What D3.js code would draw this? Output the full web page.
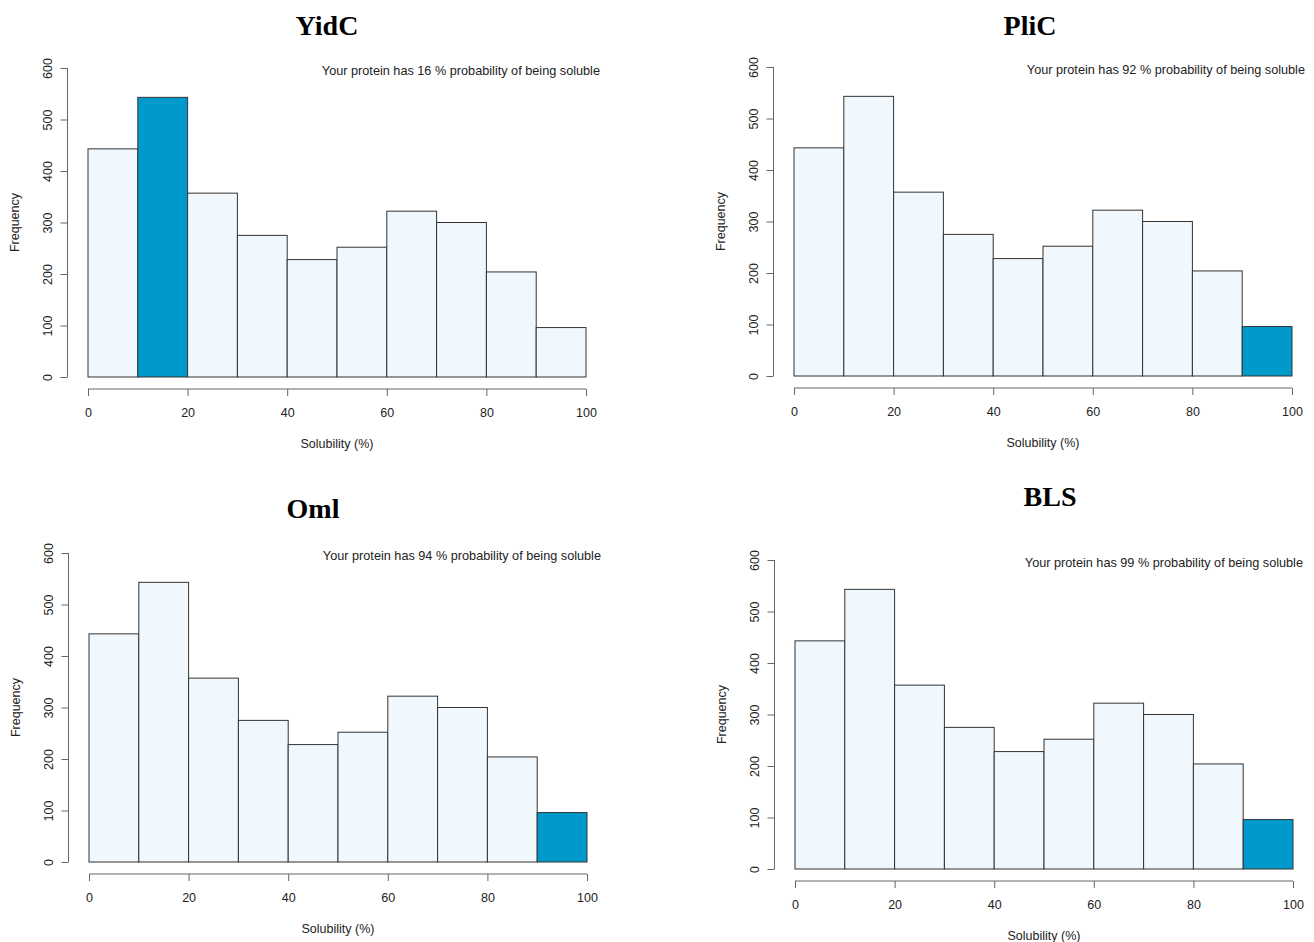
<!DOCTYPE html>
<html>
  <head>
    <meta charset="utf-8" />
    <script src="https://d3js.org/d3.v7.min.js"></script>
    <style>
      body { margin: 0; background: #fff; }
      text { font-family: "Liberation Sans", Arial, sans-serif; fill: #222; }
      .title { font-family: "Liberation Serif", "Times New Roman", serif; font-weight: bold; font-size: 28px; fill: #000; }
    </style>
  </head>
  <body>
    <svg id="chart"></svg>
    <script>
      // Histogram data (same reference distribution in every panel)
      var binEdges = [0, 10, 20, 30, 40, 50, 60, 70, 80, 90, 100];
      var counts = [443, 543, 357, 275, 228, 252, 322, 300, 204, 96];
      var xTicks = [0, 20, 40, 60, 80, 100];
      var yTicks = [0, 100, 200, 300, 400, 500, 600];

      // One entry per protein
      var proteins = ["YidC", "PliC", "Oml", "BLS"];
      var probability = [16, 92, 94, 99];
      var highlightBin = [1, 9, 9, 9]; // index of the bin that holds the protein

      // Layout of the four panels (left edge of x=0, top of y=600, title position, note offset)
      var layout = [
        { x0: 88, top: 68, tx: 327, ty: 35, nx: 14 },
        { x0: 794, top: 67, tx: 1030, ty: 35, nx: 13 },
        { x0: 89, top: 553, tx: 313, ty: 518, nx: 14 },
        { x0: 795, top: 560, tx: 1050, ty: 506, nx: 10 }
      ];

      var width = 1314;
      var height = 942;
      var plotW = 498;
      var plotH = 309;

      var svg = d3.select("#chart").attr("width", width).attr("height", height);

      proteins.forEach(function (name, i) {
        var L = layout[i];
        var g = svg.append("g");

        var x = d3.scaleLinear().domain([0, 100]).range([L.x0, L.x0 + plotW]);
        var y = d3.scaleLinear().domain([0, 600]).range([L.top + plotH, L.top]);

        // title
        g.append("text")
          .attr("class", "title")
          .attr("x", L.tx)
          .attr("y", L.ty)
          .attr("text-anchor", "middle")
          .text(name);

        // bars
        g.selectAll("rect")
          .data(counts)
          .join("rect")
          .attr("x", (d, j) => x(binEdges[j]))
          .attr("y", (d) => y(d))
          .attr("width", (d, j) => x(binEdges[j + 1]) - x(binEdges[j]))
          .attr("height", (d) => y(0) - y(d))
          .attr("fill", (d, j) => (j === highlightBin[i] ? "#0099cc" : "#f0f7fd"))
          .attr("stroke", "#333")
          .attr("stroke-width", 1);

        // x axis, R style: offset below the bars, ticks outward
        var xAxis = d3.axisBottom(x).tickValues(xTicks).tickSize(7).tickPadding(12);
        g.append("g")
          .attr("transform", `translate(0, ${L.top + plotH + 12})`)
          .call(xAxis)
          .call((a) => a.select(".domain").attr("d", `M${x(0)},0H${x(100)}`))
          .call((a) => a.selectAll("line, path").attr("stroke", "#666"))
          .call((a) => a.selectAll("text").style("font-size", "12.5px").attr("fill", "#222"));

        // y axis
        var yAxis = d3.axisLeft(y).tickValues(yTicks).tickSize(7).tickPadding(0);
        var ya = g.append("g")
          .attr("transform", `translate(${L.x0 - 20.5}, 0)`)
          .call(yAxis);
        ya.select(".domain").attr("d", `M0,${y(0)}V${y(600)}`);
        ya.selectAll("line, path").attr("stroke", "#666");
        ya.selectAll(".tick text")
          .style("font-size", "12.5px")
          .attr("fill", "#222")
          .attr("x", null)
          .attr("dy", null)
          .attr("text-anchor", "middle")
          .attr("transform", "translate(-16,0) rotate(-90)");

        // axis titles
        g.append("text")
          .attr("x", (x(0) + x(100)) / 2)
          .attr("y", L.top + plotH + 71)
          .attr("text-anchor", "middle")
          .style("font-size", "12.5px")
          .text("Solubility (%)");

        g.append("text")
          .attr("transform", `translate(${L.x0 - 69}, ${(y(0) + y(600)) / 2}) rotate(-90)`)
          .attr("text-anchor", "middle")
          .style("font-size", "12.5px")
          .text("Frequency");

        // probability note
        g.append("text")
          .attr("x", x(100) + L.nx)
          .attr("y", L.top + 7)
          .attr("text-anchor", "end")
          .style("font-size", "12.7px")
          .text(`Your protein has ${probability[i]} % probability of being soluble`);
      });
    </script>
  </body>
</html>
